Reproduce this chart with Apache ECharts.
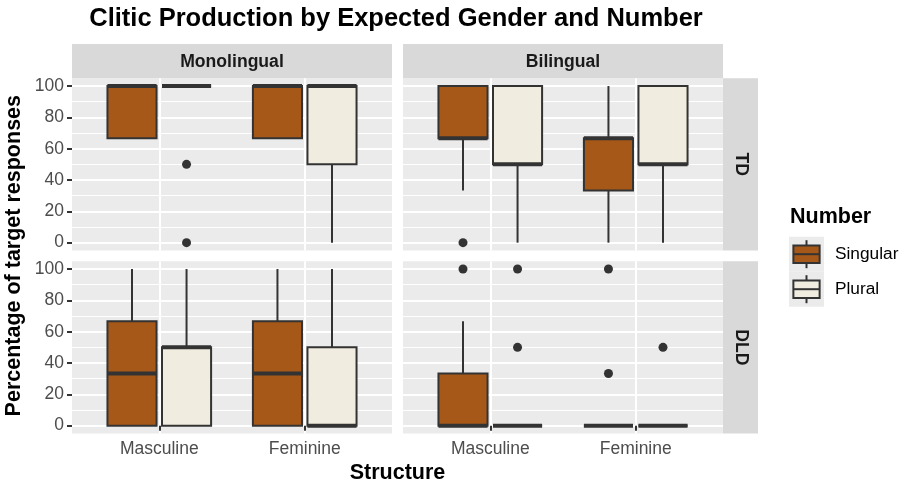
<!DOCTYPE html>
<html>
<head>
<meta charset="utf-8">
<script src="https://cdn.jsdelivr.net/npm/echarts@6/dist/echarts.min.js"></script>
<style>
  html, body { margin: 0; padding: 0; background: #ffffff; }
  #chart { width: 905px; height: 486px; }
</style>
</head>
<body>
<div id="chart"></div>
<script>
// ---- data ----
const structures = ['Masculine', 'Feminine'];
const numbers = ['Singular', 'Plural'];
const groups = ['Monolingual', 'Bilingual'];
const conditions = ['TD', 'DLD'];
const yTicks = [0, 20, 40, 60, 80, 100];
const yMinorTicks = [10, 30, 50, 70, 90];

// five-number summaries per structure (Masculine, Feminine):
// [lower whisker, Q1, median, Q3, upper whisker]
const monoTdSingular = [[66.7, 66.7, 100, 100, 100], [66.7, 66.7, 100, 100, 100]];
const monoTdPlural = [[100, 100, 100, 100, 100], [0, 50, 100, 100, 100]];
const biTdSingular = [[33.3, 66.7, 66.7, 100, 100], [0, 33.3, 66.7, 66.7, 100]];
const biTdPlural = [[0, 50, 50, 100, 100], [0, 50, 50, 100, 100]];
const monoDldSingular = [[0, 0, 33.3, 66.7, 100], [0, 0, 33.3, 66.7, 100]];
const monoDldPlural = [[0, 0, 50, 50, 100], [0, 0, 0, 50, 100]];
const biDldSingular = [[0, 0, 0, 33.3, 66.7], [0, 0, 0, 0, 0]];
const biDldPlural = [[0, 0, 0, 0, 0], [0, 0, 0, 0, 0]];

// outlying points: [structure index, value]
const monoTdSingularOut = [];
const monoTdPluralOut = [[0, 50], [0, 0]];
const biTdSingularOut = [[0, 0]];
const biTdPluralOut = [];
const monoDldSingularOut = [];
const monoDldPluralOut = [];
const biDldSingularOut = [[0, 100], [1, 100], [1, 33.3]];
const biDldPluralOut = [[0, 100], [0, 50], [1, 50]];

// ---- layout & style ----
const FONT = '"Liberation Sans", Arial, Helvetica, sans-serif';
const fills = { Singular: '#A65818', Plural: '#F0ECDF' };
const INK = '#333333';
const DODGE = 0.1875;      // half distance between dodged boxes (x units)
const BOX_WIDTH = 0.3375;  // box width (x units)

const panels = [
  { group: 0, cond: 0, left: 72, top: 78.2, Singular: monoTdSingular, Plural: monoTdPlural, SingularOut: monoTdSingularOut, PluralOut: monoTdPluralOut },
  { group: 1, cond: 0, left: 403, top: 78.2, Singular: biTdSingular, Plural: biTdPlural, SingularOut: biTdSingularOut, PluralOut: biTdPluralOut },
  { group: 0, cond: 1, left: 72, top: 261.2, Singular: monoDldSingular, Plural: monoDldPlural, SingularOut: monoDldSingularOut, PluralOut: monoDldPluralOut },
  { group: 1, cond: 1, left: 403, top: 261.2, Singular: biDldSingular, Plural: biDldPlural, SingularOut: biDldSingularOut, PluralOut: biDldPluralOut }
];
const PW = 320, PH = 172.3;

function boxRenderer(offset, fill) {
  return function (params, api) {
    const x = api.value(0) + offset;
    const lo = api.coord([x, api.value(1)]);
    const q1 = api.coord([x, api.value(2)]);
    const med = api.coord([x, api.value(3)]);
    const q3 = api.coord([x, api.value(4)]);
    const hi = api.coord([x, api.value(5)]);
    const half = api.size([BOX_WIDTH, 0])[0] / 2;
    const cx = lo[0];
    const line = { stroke: INK, lineWidth: 2 };
    return {
      type: 'group',
      children: [
        { type: 'line', shape: { x1: cx, y1: hi[1], x2: cx, y2: q3[1] }, style: line },
        { type: 'line', shape: { x1: cx, y1: q1[1], x2: cx, y2: lo[1] }, style: line },
        { type: 'rect', shape: { x: cx - half, y: q3[1], width: 2 * half, height: q1[1] - q3[1] },
          style: { fill: fill, stroke: INK, lineWidth: 2 } },
        { type: 'line', shape: { x1: cx - half, y1: med[1], x2: cx + half, y2: med[1] },
          style: { stroke: INK, lineWidth: 4 } }
      ]
    };
  };
}

const grid = [], xAxis = [], yAxis = [], series = [], graphic = [];

panels.forEach(function (p, i) {
  const bottom = p.cond === 1;
  const leftSide = p.group === 0;
  grid.push({ left: p.left, top: p.top, width: PW, height: PH, show: true,
    backgroundColor: '#EBEBEB', borderWidth: 0 });
  xAxis.push({
    type: 'value', gridIndex: i, min: 0.4, max: 2.6,
    axisLine: { show: false },
    axisTick: { show: bottom, customValues: [1, 2], length: 5, lineStyle: { color: INK, width: 2 } },
    axisLabel: { show: bottom, customValues: [1, 2], margin: 7, color: '#4D4D4D', fontSize: 17.5,
      fontFamily: FONT, formatter: function (v) { return structures[Math.round(v) - 1]; } },
    splitLine: { show: true, lineStyle: { color: '#FFFFFF', width: 2 } }
  });
  yAxis.push({
    type: 'value', gridIndex: i, min: -5, max: 105, position: 'left',
    axisLine: { show: false },
    axisTick: { show: leftSide, customValues: yTicks, length: 5, lineStyle: { color: INK, width: 2 } },
    axisLabel: { show: leftSide, customValues: yTicks, margin: 8, color: '#4D4D4D', fontSize: 17.5, fontFamily: FONT },
    splitLine: { show: true, lineStyle: { color: '#FFFFFF', width: 2 } }
  });
  yAxis.push({
    type: 'value', gridIndex: i, min: -5, max: 105, position: 'left',
    axisLine: { show: false },
    axisTick: { show: false, customValues: yMinorTicks },
    axisLabel: { show: false, customValues: yMinorTicks },
    splitLine: { show: true, lineStyle: { color: '#FFFFFF', width: 1 } }
  });

  numbers.forEach(function (num, k) {
    const offset = k === 0 ? -DODGE : DODGE;
    series.push({
      type: 'custom', name: num, xAxisIndex: i, yAxisIndex: 2 * i,
      renderItem: boxRenderer(offset, fills[num]),
      encode: { x: 0, y: [1, 2, 3, 4, 5] },
      data: p[num].map(function (v, s) { return [s + 1].concat(v); }),
      z: 3
    });
    series.push({
      type: 'scatter', name: num + ' outliers', xAxisIndex: i, yAxisIndex: 2 * i,
      symbol: 'circle', symbolSize: 9, itemStyle: { color: INK, opacity: 1 },
      data: p[num + 'Out'].map(function (o) { return [o[0] + 1 + offset, o[1]]; }),
      z: 4
    });
  });
});

// facet strips
groups.forEach(function (g, gi) {
  const left = panels[gi].left;
  graphic.push({ type: 'rect', shape: { x: left, y: 44, width: PW, height: 34.2 }, style: { fill: '#D9D9D9' } });
  graphic.push({ type: 'text', x: left + PW / 2, y: 62, style: { text: g, fill: '#1A1A1A',
    font: 'bold 17.6px ' + FONT, textAlign: 'center', textVerticalAlign: 'middle' } });
});
conditions.forEach(function (c, ci) {
  const top = panels[ci * 2].top;
  graphic.push({ type: 'rect', shape: { x: 723, y: top, width: 35, height: PH }, style: { fill: '#D9D9D9' } });
  graphic.push({ type: 'text', x: 740.5, y: top + PH / 2, rotation: -Math.PI / 2, style: { text: c, fill: '#1A1A1A',
    font: 'bold 17.6px ' + FONT, textAlign: 'center', textVerticalAlign: 'middle' } });
});

// titles
graphic.push({ type: 'text', x: 396, y: 19, style: { text: 'Clitic Production by Expected Gender and Number',
  fill: '#000', font: 'bold 25.5px ' + FONT, textAlign: 'center', textVerticalAlign: 'middle' } });
graphic.push({ type: 'text', x: 397.5, y: 473.5, style: { text: 'Structure',
  fill: '#000', font: 'bold 21.5px ' + FONT, textAlign: 'center', textVerticalAlign: 'middle' } });
graphic.push({ type: 'text', x: 14.5, y: 255.7, rotation: Math.PI / 2, style: { text: 'Percentage of target responses',
  fill: '#000', font: 'bold 21.5px ' + FONT, textAlign: 'center', textVerticalAlign: 'middle' } });

// legend
graphic.push({ type: 'text', x: 790, y: 217.5, style: { text: 'Number', fill: '#000',
  font: 'bold 21.5px ' + FONT, textAlign: 'left', textVerticalAlign: 'middle' } });
numbers.forEach(function (num, k) {
  const kx = 789, ky = 236.7 + k * 35, ks = 35;
  const cx = kx + ks / 2;
  graphic.push({ type: 'rect', shape: { x: kx, y: ky, width: ks, height: ks }, style: { fill: '#EBEBEB' } });
  graphic.push({ type: 'line', shape: { x1: cx, y1: ky + ks * 0.1, x2: cx, y2: ky + ks * 0.25 }, style: { stroke: INK, lineWidth: 2 } });
  graphic.push({ type: 'line', shape: { x1: cx, y1: ky + ks * 0.75, x2: cx, y2: ky + ks * 0.9 }, style: { stroke: INK, lineWidth: 2 } });
  graphic.push({ type: 'rect', shape: { x: kx + ks * 0.125, y: ky + ks * 0.25, width: ks * 0.75, height: ks * 0.5 },
    style: { fill: fills[num], stroke: INK, lineWidth: 2 } });
  graphic.push({ type: 'line', shape: { x1: kx + ks * 0.125, y1: ky + ks * 0.5, x2: kx + ks * 0.875, y2: ky + ks * 0.5 },
    style: { stroke: INK, lineWidth: 2 } });
  graphic.push({ type: 'text', x: 835, y: ky + ks / 2, style: { text: num, fill: '#000',
    font: '17.3px ' + FONT, textAlign: 'left', textVerticalAlign: 'middle' } });
});

const chart = echarts.init(document.getElementById('chart'), null, { renderer: 'canvas' });
chart.setOption({
  animation: false,
  backgroundColor: '#FFFFFF',
  textStyle: { fontFamily: FONT },
  grid: grid,
  xAxis: xAxis,
  yAxis: yAxis,
  series: series,
  graphic: graphic
});
</script>
</body>
</html>
